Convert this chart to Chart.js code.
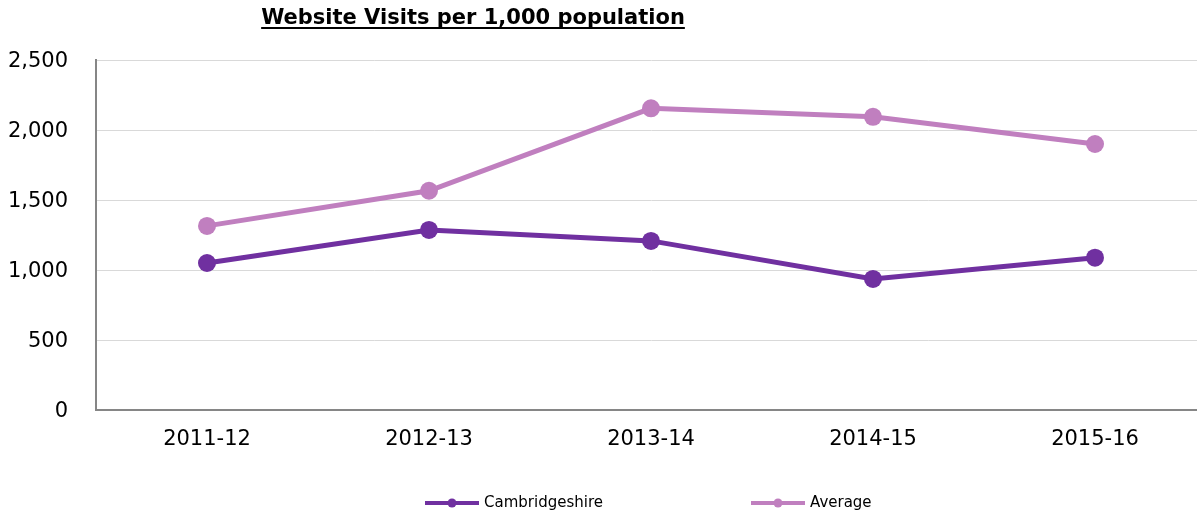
<!DOCTYPE html>
<html>
<head>
<meta charset="utf-8">
<script src="https://cdn.jsdelivr.net/npm/chart.js@4/dist/chart.umd.min.js"></script>
<style>
html,body{margin:0;padding:0;background:#fff;overflow:hidden;}
canvas{display:block;}
</style>
</head>
<body>
<canvas id="c" width="1215" height="516" style="width:1215px;height:516px;"></canvas>
<script>
const titleText = "Website Visits per 1,000 population";
const categories = ["2011-12", "2012-13", "2013-14", "2014-15", "2015-16"];
const cambridgeshire = [1050, 1286, 1208, 936, 1088];
const average = [1315, 1566, 2155, 2094, 1900];
const seriesNames = ["Cambridgeshire", "Average"];
const seriesColors = ["#7030a0", "#c07fbf"];
const yTicks = [0, 500, 1000, 1500, 2000, 2500];

const FONT = "'DejaVu Sans', Verdana, sans-serif";

const titlePlugin = {
  id: 'underlinedTitle',
  afterDraw(chart) {
    const ctx = chart.ctx;
    ctx.save();
    ctx.font = "bold 21px " + FONT;
    ctx.fillStyle = "#000";
    ctx.textAlign = "center";
    ctx.textBaseline = "alphabetic";
    const cx = 473, by = 24;
    ctx.fillText(titleText, cx, by);
    const w = ctx.measureText(titleText).width;
    ctx.fillRect(cx - w / 2, by + 3, w, 2);
    ctx.restore();
  }
};

const legendPlugin = {
  id: 'customLegend',
  afterDraw(chart) {
    const ctx = chart.ctx;
    ctx.save();
    ctx.font = "15px " + FONT;
    ctx.textBaseline = "middle";
    ctx.textAlign = "left";
    const y = 503;
    const starts = [425, 751];
    chart.data.datasets.forEach((ds, i) => {
      const x = starts[i];
      ctx.strokeStyle = ds.borderColor;
      ctx.lineWidth = 4;
      ctx.beginPath();
      ctx.moveTo(x, y);
      ctx.lineTo(x + 54, y);
      ctx.stroke();
      ctx.fillStyle = ds.borderColor;
      ctx.beginPath();
      ctx.arc(x + 27, y, 4.5, 0, Math.PI * 2);
      ctx.fill();
      ctx.fillStyle = "#000";
      ctx.fillText(ds.label, x + 59, y);
    });
    ctx.restore();
  }
};

new Chart(document.getElementById('c'), {
  type: 'line',
  data: {
    labels: categories,
    datasets: [
      {
        label: seriesNames[0],
        data: cambridgeshire,
        borderColor: seriesColors[0],
        backgroundColor: seriesColors[0],
        pointBackgroundColor: seriesColors[0],
        pointBorderColor: seriesColors[0],
        borderWidth: 5,
        pointRadius: 9,
        pointBorderWidth: 0,
        tension: 0
      },
      {
        label: seriesNames[1],
        data: average,
        borderColor: seriesColors[1],
        backgroundColor: seriesColors[1],
        pointBackgroundColor: seriesColors[1],
        pointBorderColor: seriesColors[1],
        borderWidth: 5,
        pointRadius: 9,
        pointBorderWidth: 0,
        tension: 0
      }
    ]
  },
  options: {
    responsive: false,
    animation: false,
    devicePixelRatio: 1,
    layout: { padding: { top: 60, left: 0, right: 0, bottom: 0 } },
    plugins: {
      legend: { display: false },
      title: { display: false },
      tooltip: { enabled: false }
    },
    scales: {
      x: {
        offset: true,
        grid: { display: false, drawTicks: false },
        border: { display: true, color: '#868686', width: 2 },
        ticks: { color: '#000', font: { family: FONT, size: 21 }, padding: 17, maxRotation: 0 },
        afterFit(s) { s.height = 106; }
      },
      y: {
        min: 0,
        max: 2500,
        afterBuildTicks(s) { s.ticks = yTicks.map(v => ({ value: v })); },
        grid: { color: '#d9d9d9', lineWidth: 1, drawTicks: false },
        border: { display: true, color: '#868686', width: 2 },
        ticks: {
          color: '#000',
          font: { family: FONT, size: 21 },
          padding: 28,
          labelOffset: 2,
          callback: v => v.toLocaleString('en-US')
        },
        afterFit(s) { s.width = 96; }
      }
    }
  },
  plugins: [titlePlugin, legendPlugin]
});
</script>
</body>
</html>
